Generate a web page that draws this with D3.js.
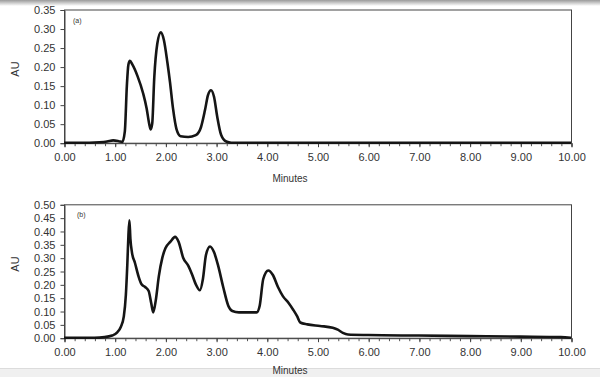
<!DOCTYPE html>
<html>
<head>
<meta charset="utf-8">
<script src="https://cdn.jsdelivr.net/npm/d3@7"></script>
<style>
  body { margin: 0; background: #fff; }
  svg { display: block; }
  text { font-family: "Liberation Sans", Arial, sans-serif; fill: #333; }
</style>
</head>
<body>
<svg id="drawing_region"></svg>
<script>
// chromatogram (a)
const timesA = [0, 0.5, 0.7, 0.85, 0.97, 1.08, 1.15, 1.2, 1.24, 1.27, 1.30, 1.35, 1.45, 1.56, 1.63, 1.68, 1.71, 1.74, 1.78, 1.84, 1.91, 1.97, 2.04, 2.09, 2.15, 2.22, 2.3, 2.45, 2.6, 2.7, 2.78, 2.84, 2.90, 2.96, 3.02, 3.1, 3.2, 3.3, 4, 10];
const valuesA = [0, 0, 0.001, 0.003, 0.006, 0.004, 0.002, 0.03, 0.15, 0.205, 0.215, 0.205, 0.175, 0.13, 0.09, 0.05, 0.035, 0.05, 0.17, 0.26, 0.29, 0.27, 0.21, 0.16, 0.09, 0.035, 0.017, 0.015, 0.02, 0.04, 0.085, 0.125, 0.138, 0.12, 0.07, 0.02, 0.003, 0, 0, 0];

// chromatogram (b)
const timesB = [0, 0.6, 0.8, 0.95, 1.05, 1.12, 1.18, 1.22, 1.25, 1.27, 1.29, 1.31, 1.34, 1.40, 1.47, 1.53, 1.60, 1.67, 1.72, 1.76, 1.81, 1.87, 1.94, 2.0, 2.1, 2.19, 2.26, 2.35, 2.45, 2.52, 2.6, 2.68, 2.74, 2.80, 2.88, 2.96, 3.04, 3.14, 3.24, 3.32, 3.45, 3.6, 3.8, 3.86, 3.93, 4.03, 4.12, 4.22, 4.32, 4.43, 4.52, 4.6, 4.66, 4.8, 5.05, 5.3, 5.4, 5.5, 5.6, 6, 7, 8, 9, 9.8, 10];
const valuesB = [0, 0, 0.002, 0.008, 0.02, 0.04, 0.08, 0.16, 0.28, 0.38, 0.44, 0.37, 0.32, 0.28, 0.23, 0.2, 0.19, 0.175, 0.13, 0.095, 0.14, 0.23, 0.3, 0.335, 0.36, 0.378, 0.36, 0.3, 0.27, 0.24, 0.2, 0.178, 0.22, 0.31, 0.342, 0.32, 0.27, 0.19, 0.12, 0.1, 0.095, 0.095, 0.095, 0.12, 0.22, 0.252, 0.235, 0.19, 0.155, 0.13, 0.105, 0.08, 0.057, 0.05, 0.044, 0.037, 0.03, 0.018, 0.012, 0.01, 0.008, 0.006, 0.004, 0.002, 0];

const xTicks = d3.range(0, 10.01, 1);
const yTicksA = d3.range(0, 0.351, 0.05);
const yTicksB = d3.range(0, 0.501, 0.05);

const W = 600, H = 377;
const svg = d3.select('#drawing_region').attr('width', W).attr('height', H);

// top/bottom grey edges of the screenshot
const defs = svg.append('defs');
const gTop = defs.append('linearGradient').attr('id', 'gtop').attr('x1', 0).attr('y1', 0).attr('x2', 0).attr('y2', 1);
gTop.append('stop').attr('offset', '0%').attr('stop-color', '#9a9a9a');
gTop.append('stop').attr('offset', '100%').attr('stop-color', '#ffffff');
svg.append('rect').attr('x', 0).attr('y', 0).attr('width', W).attr('height', 6).attr('fill', 'url(#gtop)');
svg.append('rect').attr('x', 0).attr('y', 368).attr('width', W).attr('height', 9).attr('fill', '#f0f0f0');
svg.append('line').attr('x1', 0).attr('x2', W).attr('y1', 368.5).attr('y2', 368.5).attr('stroke', '#dcdcdc');

function drawPanel(cfg) {
  const xscale = d3.scaleLinear().domain([0, 10]).range([64, 571]);
  const yscale = d3.scaleLinear().domain([0, cfg.ymax]).range([cfg.y0, cfg.y1]);
  const g = svg.append('g');

  g.append('rect')
    .attr('x', 64.5).attr('y', cfg.y1 + 0.5)
    .attr('width', 507).attr('height', cfg.y0 - cfg.y1)
    .attr('fill', '#fff').attr('stroke', '#444').attr('stroke-width', 1);

  // minor ticks every 0.2 minutes
  g.append('g').attr('transform', `translate(0.5, ${cfg.y0 + 0.5})`)
    .call(d3.axisBottom(xscale).tickValues(d3.range(0, 10.01, 0.2)).tickSize(3).tickFormat(''))
    .call(a => a.select('.domain').remove())
    .call(a => a.selectAll('line').attr('stroke', '#555'));

  g.append('g').attr('transform', `translate(0.5, ${cfg.y0 + 0.5})`)
    .call(d3.axisBottom(xscale).tickValues(xTicks).tickSize(4).tickPadding(6).tickFormat(d3.format('.2f')))
    .call(a => a.select('.domain').attr('stroke', '#444'))
    .call(a => a.selectAll('line').attr('stroke', '#444'))
    .call(a => a.selectAll('text').attr('font-size', 11).attr('fill', '#333'));

  g.append('g').attr('transform', `translate(64.5, 0.5)`)
    .call(d3.axisLeft(yscale).tickValues(cfg.yTicks).tickSize(4).tickPadding(5).tickFormat(d3.format('.2f')))
    .call(a => a.select('.domain').attr('stroke', '#444'))
    .call(a => a.selectAll('line').attr('stroke', '#444'))
    .call(a => a.selectAll('text').attr('font-size', 11).attr('fill', '#333'));

  const line = d3.line()
    .x((d, i) => xscale(cfg.times[i]))
    .y(d => yscale(d))
    .curve(d3.curveMonotoneX);

  g.append('path')
    .attr('d', line(cfg.values))
    .attr('fill', 'none')
    .attr('stroke', '#151515')
    .attr('stroke-width', 2.6)
    .attr('stroke-linejoin', 'round');

  g.append('text')
    .attr('x', cfg.labelX).attr('y', cfg.y1 + 13)
    .attr('font-size', 7).text(cfg.label);

  g.append('text')
    .attr('transform', `translate(19, ${cfg.auY}) rotate(-90)`)
    .attr('text-anchor', 'middle')
    .attr('font-size', 11).text('AU');

  g.append('text')
    .attr('x', 290).attr('y', cfg.minY)
    .attr('text-anchor', 'middle')
    .attr('font-size', 10).text('Minutes');
}

drawPanel({ times: timesA, values: valuesA, ymax: 0.35, yTicks: yTicksA, y0: 142.7, y1: 9.5, label: '(a)', labelX: 73, auY: 69, minY: 182 });
drawPanel({ times: timesB, values: valuesB, ymax: 0.50, yTicks: yTicksB, y0: 337.7, y1: 204.3, label: '(b)', labelX: 77, auY: 264, minY: 374 });
</script>
</body>
</html>
